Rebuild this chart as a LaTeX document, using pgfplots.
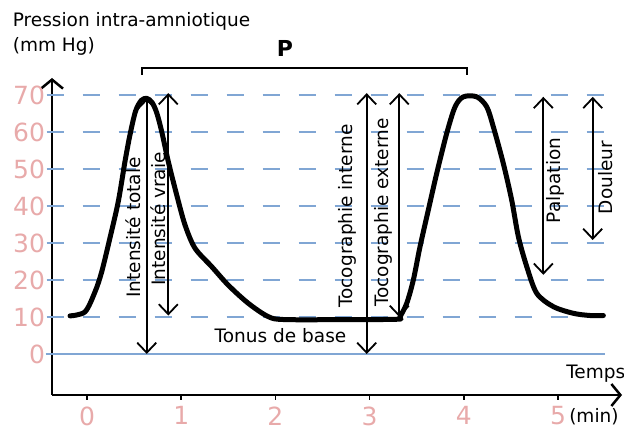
\documentclass[border=0pt]{standalone}
\usepackage{pgfplots}
\pgfplotsset{compat=1.18}
\usepackage{fontspec}
\setmainfont{DejaVu Sans}
\usetikzlibrary{arrows.meta}
\definecolor{tpink}{RGB}{232,170,170}
\definecolor{gblue}{RGB}{128,166,212}
\begin{document}
\begin{tikzpicture}[lab/.style={inner sep=0pt, font=\fontsize{18.5}{20}\selectfont},
  grd/.style={gblue, line width=2.7pt, dash pattern=on 17pt off 19pt}]
\useasboundingbox (0,0) rectangle (624pt,430pt);
\begin{axis}[
  at={(52pt,35pt)}, anchor=south west,
  scale only axis, width=570pt, height=317pt,
  xmin=-0.3716, xmax=5.679, ymin=-11.08, ymax=74.59,
  axis lines=left,
  axis line style={line width=2.5pt, -{Straight Barb[length=9pt,width=22pt]}},
  xtick={0,1,2,3,4,5}, ytick={0,10,...,70},
  tick align=outside, major tick length=5pt,
  x tick style={black, line width=1.6pt},
  y tick style={draw=none},
  /pgf/number format/assume math mode=true,
  tick label style={text=tpink, font=\fontsize{25}{25}\selectfont},
  yticklabel style={xshift=1.5pt},
  xticklabel style={yshift=-3pt},
  clip=false,
]
% dashed reference lines
\draw[grd] (axis cs:-0.428,10) -- (axis cs:5.485,10);
\draw[grd] (axis cs:-0.428,20) -- (axis cs:5.485,20);
\draw[grd] (axis cs:-0.428,30) -- (axis cs:5.485,30);
\draw[grd] (axis cs:-0.428,40) -- (axis cs:5.485,40);
\draw[grd] (axis cs:-0.428,50) -- (axis cs:5.485,50);
\draw[grd] (axis cs:-0.428,60) -- (axis cs:5.485,60);
\draw[grd] (axis cs:-0.428,70) -- (axis cs:5.485,70);
\draw[gblue, line width=2pt] (axis cs:-0.44,0) -- (axis cs:5.5,0);

% pressure curve
\addplot[black, line width=5pt, smooth, line join=round, line cap=round] coordinates {
(-0.180,10.3) (-0.021,11.4) (0.085,16.8) (0.156,22.2) (0.244,31.4) (0.332,41.2)
(0.403,52.0) (0.456,59.2) (0.515,65.6) (0.575,68.5) (0.634,69.1) (0.690,68.0) (0.740,65.2) (0.793,60.1)
(0.863,52.0) (0.952,43.0) (1.040,34.9) (1.146,28.6) (1.324,23.6) (1.500,18.6)
(1.712,13.7) (1.924,10.1) (2.102,9.3) (2.792,9.3) (3.300,9.4)
(3.323,10.1) (3.394,13.7) (3.464,20.0) (3.535,29.0) (3.623,38.9) (3.712,48.8)
(3.818,59.6) (3.907,66.8) (3.995,69.5) (4.137,69.5) (4.243,66.8) (4.313,61.4)
(4.419,51.5) (4.508,41.6) (4.579,31.7) (4.668,23.6) (4.774,16.4) (4.950,12.8)
(5.162,11.0) (5.340,10.4) (5.481,10.4)
};

% measurement arrows
\begin{scope}[line width=1.8pt, {Straight Barb[length=10pt,width=19pt]}-{Straight Barb[length=10pt,width=19pt]}]
\draw (axis cs:0.634,69.1) -- (axis cs:0.634,0);
\draw (axis cs:0.863,70.5) -- (axis cs:0.863,10.4);
\draw (axis cs:2.969,70.5) -- (axis cs:2.969,0);
\draw (axis cs:3.315,70.5) -- (axis cs:3.315,10);
\draw (axis cs:4.844,69.5) -- (axis cs:4.844,21.4);
\draw (axis cs:5.368,69.5) -- (axis cs:5.368,30.8);
\end{scope}

\node[lab, rotate=90] at (axis cs:0.492,34.2) {Intensité totale};
\node[lab, rotate=90] at (axis cs:0.757,36.5) {Intensité vraie};
\node[lab, rotate=90] at (axis cs:2.765,37.3) {Tocographie interne};
\node[lab, rotate=90] at (axis cs:3.146,38.2) {Tocographie externe};
\node[lab, rotate=90] at (axis cs:4.968,46.9) {Palpation};
\node[lab, rotate=90] at (axis cs:5.506,47.7) {Douleur};
\node[lab] at (axis cs:2.054,4.86) {Tonus de base};

% P bracket
\draw[line width=2pt] (axis cs:0.581,75.4) -- (axis cs:0.581,77.4) -- (axis cs:4.031,77.4) -- (axis cs:4.031,75.4);
\node[anchor=base, inner sep=0pt, font=\bfseries\fontsize{22}{22}\selectfont] at (axis cs:2.102,80.35) {P};

% axis titles
\node[lab, anchor=base west] at (axis cs:-0.789,88.46) {Pression intra-amniotique};
\node[lab, anchor=base west] at (axis cs:-0.789,81.7) {(mm Hg)};
\node[lab, anchor=west] at (axis cs:5.085,-5.4) {Temps};
\node[lab, anchor=west] at (axis cs:5.117,-17.0) {(min)};
\end{axis}
\end{tikzpicture}
\end{document}
